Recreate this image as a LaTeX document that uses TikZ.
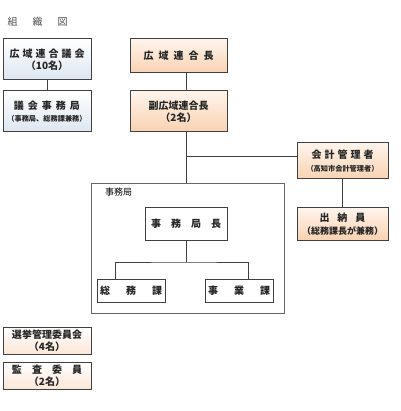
\documentclass[tikz,border=0pt]{standalone}
\usepackage{fontspec}
\setmainfont{Noto Sans CJK JP}
\newcommand{\gp}[1]{\hspace{#1pt}}
\definecolor{blueb}{HTML}{DCE6F1}
\definecolor{orangeb}{HTML}{F9D2B2}
\definecolor{oranget}{HTML}{FEF4EC}
\definecolor{peachb}{HTML}{FBE6D6}
\begin{document}
\begin{tikzpicture}[x=1pt,y=-1pt]
\tikzset{orgbox/.style={draw=black!75, line width=1pt, inner sep=0pt, align=center, text=black!85, font=\fontsize{10}{12.5}\selectfont\bfseries},
  bluebox/.style={orgbox, top color=white, bottom color=blueb},
  orangebox/.style={orgbox, top color=oranget, bottom color=orangeb},
  peachbox/.style={orgbox, top color=white, bottom color=peachb},
  plainbox/.style={orgbox, fill=white},
  conn/.style={draw=black!75, line width=0.9pt}}
\useasboundingbox (0,0) rectangle (400,411);
\node[text=black!70, anchor=west, font=\fontsize{10}{12}\selectfont] (title) at (4,22) {組\gp{15}織\gp{15}図};
% left column
\node[bluebox, minimum width=88pt, minimum height=41pt] (gikai) at (47,59.5) {広\gp3域\gp3連\gp3合\gp3議\gp3会\\（10名）};
\node[bluebox, minimum width=88pt, minimum height=41pt] (gikaijim) at (47,111.5) {議\gp4会\gp4事\gp4務\gp4局\\{\fontsize{7.2}{9}\selectfont（事務局、総務課兼務）}};
\node[peachbox, minimum width=88pt, minimum height=27pt] (senkyo) at (47,340.5) {選挙管理委員会\\（4名）};
\node[peachbox, minimum width=88pt, minimum height=27pt] (kansa) at (47,375.5) {監\gp{10}査\gp{10}委\gp{10}員\\（2名）};
% top row
\node[orangebox, minimum width=97pt, minimum height=34pt] (rengocho) at (178.5,56) {広\gp5域\gp5連\gp5合\gp5長};
\node[orangebox, minimum width=97pt, minimum height=41pt] (fuku) at (178.5,111.5) {副広域連合長\\（2名）};
\node[orangebox, minimum width=91pt, minimum height=36pt] (kaikei) at (342.5,161) {会\gp3計\gp3管\gp3理\gp3者\\{\fontsize{7.2}{9}\selectfont（高知市会計管理者）}};
\node[orangebox, minimum width=91pt, minimum height=32pt] (suito) at (342.5,224) {出\gp8納\gp8員\\{\fontsize{9}{11}\selectfont（総務課長が兼務）}};
% secretariat
\node[draw=black!60, line width=0.6pt, minimum width=193pt, minimum height=130pt, inner sep=0pt] (frame) at (187.5,248) {};
\node[anchor=west, font=\fontsize{9}{11}\selectfont, inner sep=0pt] (framelbl) at (105,192) {事務局};
\node[plainbox, minimum width=82pt, minimum height=32pt] (kyokucho) at (186,224) {事\gp{10}務\gp{10}局\gp{10}長};
\node[plainbox, minimum width=68pt, minimum height=23pt] (somu) at (131,290.5) {総\gp{16}務\gp{16}課};
\node[plainbox, minimum width=68pt, minimum height=23pt] (jigyo) at (239,290.5) {事\gp{16}業\gp{16}課};
% connectors
\coordinate (junc) at (186,156);
\coordinate (split) at (186,262);
\coordinate (somutap) at (115,279);
\coordinate (jigyotap) at (248,279);
\draw[conn] (gikai) -- (gikaijim);
\draw[conn] (rengocho.south -| junc) -- (fuku.north -| junc);
\draw[conn] (fuku.south -| junc) -- (frame.north -| junc);
\draw[conn] (junc) -- (junc -| kaikei.west);
\draw[conn] (kaikei) -- (suito);
\draw[conn] (kyokucho.south) -- (split);
\draw[conn] (somutap) |- (split) -| (jigyotap);
\end{tikzpicture}
\end{document}
